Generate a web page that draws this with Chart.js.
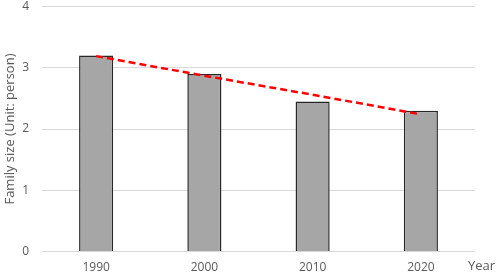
<!DOCTYPE html>
<html>
<head>
<meta charset="utf-8">
<script src="https://cdn.jsdelivr.net/npm/chart.js@4"></script>
<style>
  html, body { margin: 0; padding: 0; background: #fff; }
  #wrap { width: 498px; height: 274px; }
</style>
</head>
<body>
<div id="wrap"><canvas id="familyChart" width="498" height="274"></canvas></div>
<script>
const years = ["1990", "2000", "2010", "2020"];
const familySize = [3.2, 2.9, 2.45, 2.3];
const trendLine = [3.19, 2.87, 2.56, 2.24];
const yTicks = [0, 1, 2, 3, 4];

const textColor = "#595959";
const fontFamily = "'Open Sans', 'Noto Sans', sans-serif";

// "Year" label sits at the right end of the category axis
const yearLabel = {
    id: "yearLabel",
    afterDraw(chart) {
        const ctx = chart.ctx;
        const xScale = chart.scales.x;
        ctx.save();
        ctx.fillStyle = textColor;
        ctx.font = "13px " + fontFamily;
        ctx.textAlign = "left";
        ctx.textBaseline = "middle";
        ctx.fillText("Year", chart.chartArea.right - 7, xScale.top + 15);
        ctx.restore();
    }
};

new Chart(document.getElementById("familyChart"), {
    type: "bar",
    data: {
        labels: years,
        datasets: [
            {
                type: "line",
                data: trendLine,
                borderColor: "#ff0000",
                borderWidth: 2.5,
                borderDash: [7, 4],
                pointRadius: 0,
                fill: false,
                order: 0
            },
            {
                type: "bar",
                data: familySize,
                backgroundColor: "#a6a6a6",
                borderColor: "#262626",
                borderWidth: 1.5,
                barPercentage: 0.63,
                categoryPercentage: 0.5,
                order: 1
            }
        ]
    },
    options: {
        responsive: false,
        animation: false,
        layout: {
            padding: { top: 0, right: 23, left: 2, bottom: -10 }
        },
        plugins: {
            legend: { display: false },
            tooltip: { enabled: false }
        },
        scales: {
            x: {
                grid: { display: false, drawTicks: false },
                border: { display: false },
                ticks: {
                    color: textColor,
                    font: { size: 12, family: fontFamily },
                    padding: 9
                }
            },
            y: {
                min: 0,
                max: 4,
                afterBuildTicks(scale) {
                    scale.ticks = yTicks.map(v => ({ value: v }));
                },
                afterFit(scale) {
                    scale.width = 40;
                    scale.paddingTop = 6.5;
                },
                grid: {
                    color: "#d9d9d9",
                    lineWidth: 1,
                    drawTicks: false
                },
                border: { display: false },
                ticks: {
                    color: textColor,
                    font: { size: 12, family: fontFamily },
                    padding: 13
                },
                title: {
                    display: true,
                    text: "Family size (Unit: person)",
                    color: textColor,
                    font: { size: 13, family: fontFamily },
                    padding: { top: 0, bottom: 2 }
                }
            }
        }
    },
    plugins: [yearLabel]
});
</script>
</body>
</html>
